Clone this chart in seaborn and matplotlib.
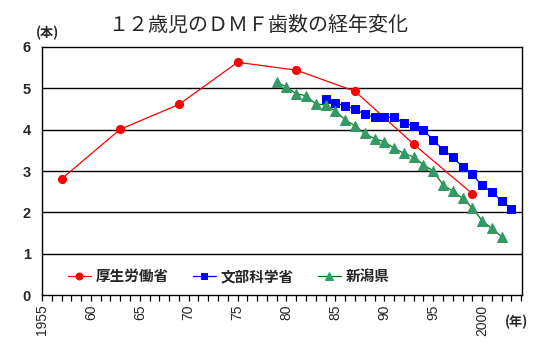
import matplotlib
matplotlib.use("Agg")
import matplotlib.pyplot as plt
import seaborn as sns
import pandas as pd
from matplotlib.ticker import FixedLocator, MultipleLocator

sns.set_theme(style="white")
plt.rcParams['font.family'] = ['Noto Sans CJK JP', 'DejaVu Sans']

# --- data ---
title = "１２歳児のＤＭＦ歯数の経年変化"
mhlw_years = [1957, 1963, 1969, 1975, 1981, 1987, 1993, 1999]
mhlw_vals = [2.81, 4.01, 4.61, 5.63, 5.44, 4.93, 3.65, 2.45]

mext_years = list(range(1984, 2004))
mext_vals = [4.75, 4.64, 4.58, 4.50, 4.37, 4.30, 4.30, 4.30, 4.16, 4.09,
             4.00, 3.74, 3.52, 3.34, 3.10, 2.92, 2.65, 2.49, 2.28, 2.09]

niigata_years = list(range(1979, 2003))
niigata_vals = [5.15, 5.03, 4.87, 4.82, 4.62, 4.60, 4.45, 4.24, 4.09, 3.91,
                3.78, 3.71, 3.55, 3.43, 3.34, 3.15, 3.00, 2.67, 2.51, 2.34,
                2.11, 1.80, 1.61, 1.41]

series_names = ["厚生労働省", "文部科学省", "新潟県"]
xtick_pos = [1955, 1960, 1965, 1970, 1975, 1980, 1985, 1990, 1995, 2000]
xtick_labels = ["1955", "60", "65", "70", "75", "80", "85", "90", "95", "2000"]

df_mhlw = pd.DataFrame({"year": mhlw_years, "val": mhlw_vals})
df_mext = pd.DataFrame({"year": mext_years, "val": mext_vals})
df_nii = pd.DataFrame({"year": niigata_years, "val": niigata_vals})

fig = plt.figure(figsize=(5.5, 3.56), dpi=100)
ax = fig.add_axes([0.0764, 0.1713, 0.873, 0.6967])

sns.lineplot(data=df_mhlw, x="year", y="val", ax=ax, color="#FF0000", lw=0.9,
             marker="o", markersize=5.8, markeredgecolor="#FF0000",
             markerfacecolor="#FF0000", label=series_names[0], zorder=3)
sns.lineplot(data=df_mext, x="year", y="val", ax=ax, color="#0000FF", lw=0.9,
             marker="s", markersize=5.8, markeredgecolor="#0000FF",
             markerfacecolor="#0000FF", label=series_names[1], zorder=3)
sns.lineplot(data=df_nii, x="year", y="val", ax=ax, color="#008000", lw=0.9,
             marker="^", markersize=6.6, markeredgecolor="#339966",
             markerfacecolor="#339966", label=series_names[2], zorder=3)

ax.set_xlim(1955, 2004.1)
ax.set_ylim(0, 6)
ax.set_xlabel("")
ax.set_ylabel("")

ax.xaxis.set_major_locator(FixedLocator(xtick_pos))
ax.set_xticklabels(xtick_labels, rotation=90, fontsize=10, family=['Liberation Sans', 'DejaVu Sans'])
ax.xaxis.set_minor_locator(MultipleLocator(1))
ax.tick_params(axis="x", which="both", direction="out", length=4, width=0.9,
               color="black", bottom=True, pad=3)
ax.set_yticks([0, 1, 2, 3, 4, 5, 6])
ax.set_yticklabels(["0", "1", "2", "3", "4", "5", "6"], fontsize=10.5, fontweight="bold",
                   family=['Liberation Sans', 'DejaVu Sans'])
ax.tick_params(axis="y", length=0, pad=8)

for yv in [1, 2, 3, 4, 5]:
    ax.axhline(yv, color="black", lw=1.0, zorder=1)

for s in ax.spines.values():
    s.set_color("black")
    s.set_linewidth(1.0)

leg = ax.legend(loc="center", bbox_to_anchor=(0.389, 0.076), ncol=3, frameon=False,
                prop={"size": 10.5, "weight": "bold"}, handlelength=1.6,
                columnspacing=1.6, handletextpad=0.35, markerscale=0.85)

fig.text(0.469, 0.93, title, ha="center", va="center", fontsize=14.4)
fig.text(0.086, 0.907, "(本)", ha="center", va="center", fontsize=9.5, fontweight="bold")
fig.text(0.94, 0.095, "(年)", ha="center", va="center", fontsize=9.5, fontweight="bold")

fig.savefig("out.png", dpi=100)
